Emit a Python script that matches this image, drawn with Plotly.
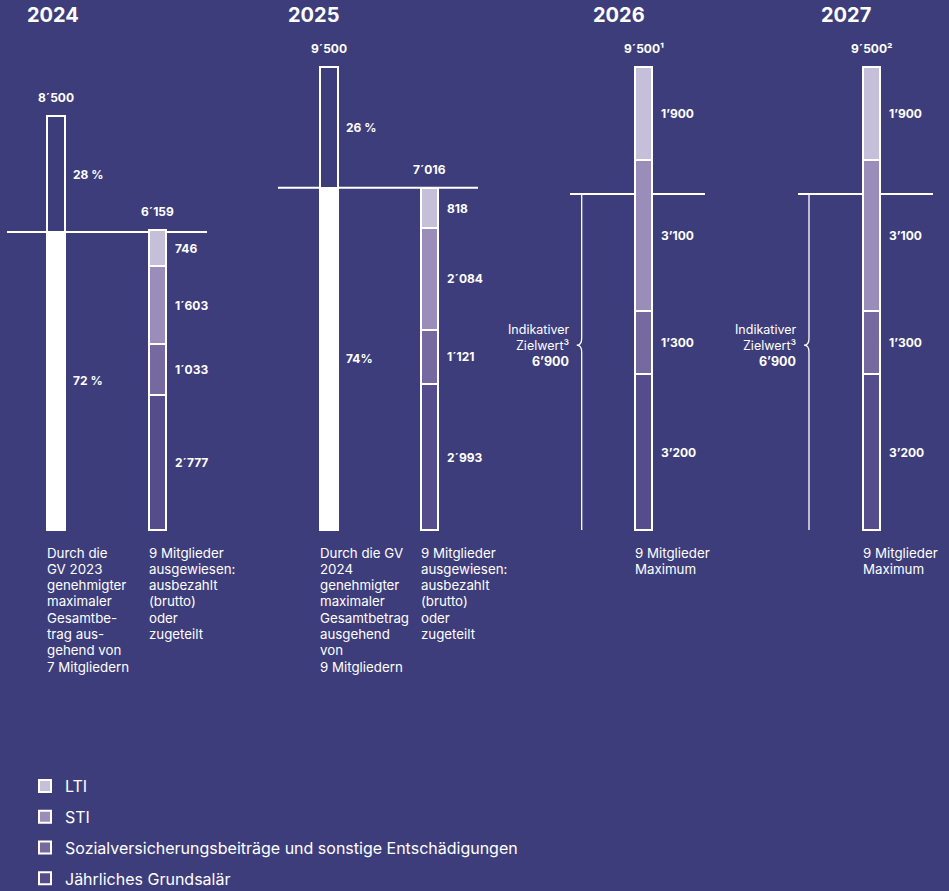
import plotly.graph_objects as go

# ---------------- data ----------------
years = ["2024", "2025", "2026", "2027"]

approved_years = ["2024", "2025"]
approved_total = [8500, 9500]
approved_total_labels = ["8´500", "9´500"]
approved_fixed_share = [0.72, 0.74]
approved_fixed_labels = ["72 %", "74%"]
approved_var_labels = ["28 %", "26 %"]

comp_years = ["2024", "2025", "2026", "2027"]
grundsalaer = [2777, 2993, 3200, 3200]
sozial = [1033, 1121, 1300, 1300]
sti = [1603, 2084, 3100, 3100]
lti = [746, 818, 1900, 1900]
comp_total_labels = ["6´159", "7´016", "9´500¹", "9´500²"]
thousand_sep = ["´", "´", "’", "’"]

target_years = ["2026", "2027"]
target_value = [6900, 6900]
target_labels = ["6’900", "6’900"]

series_names = ["Jährliches Grundsalär",
                "Sozialversicherungsbeiträge und sonstige Entschädigungen",
                "STI", "LTI"]

notes_approved = [
    ["Durch die", "GV 2023", "genehmigter", "maximaler", "Gesamtbe-",
     "trag aus-", "gehend von", "7 Mitgliedern"],
    ["Durch die GV", "2024", "genehmigter", "maximaler", "Gesamtbetrag",
     "ausgehend", "von", "9 Mitgliedern"],
]
notes_comp = [
    ["9 Mitglieder", "ausgewiesen:", "ausbezahlt", "(brutto)", "oder", "zugeteilt"],
    ["9 Mitglieder", "ausgewiesen:", "ausbezahlt", "(brutto)", "oder", "zugeteilt"],
    ["9 Mitglieder", "Maximum"],
    ["9 Mitglieder", "Maximum"],
]

# ---------------- layout constants ----------------
W, H = 949, 891
BG = "#3e3d7b"
WHITE = "#ffffff"
colors = ["#554d8b", "#75699f", "#9a8db9", "#c6bfd9"]
FONT = "Inter, 'Open Sans', sans-serif"
PX_PER_UNIT = 0.0487
BASE_PX = 530

year_label_x = [53, 313, 619, 846]
approved_x = [56, 328.5]
approved_w = 18
comp_x = [157, 429.6, 643.7, 871.7]
comp_w = 17
ref_span = [(7, 207), (278, 478), (570, 705), (798, 933)]
brace_x = [581.7, 809]

y_range = [-(H - BASE_PX) / PX_PER_UNIT, BASE_PX / PX_PER_UNIT]


def fmt(v, sep):
    s = f"{v:,}"
    return s.replace(",", sep)


fig = go.Figure()

# approved maximum bars (fixed part filled white, variable part hollow)
fixed_part = [t * s for t, s in zip(approved_total, approved_fixed_share)]
var_part = [t - f for t, f in zip(approved_total, fixed_part)]
fig.add_trace(go.Bar(x=approved_x, y=fixed_part, width=approved_w,
                     marker=dict(color=WHITE, line=dict(color=WHITE, width=2)),
                     showlegend=False, hoverinfo="skip"))
fig.add_trace(go.Bar(x=approved_x, y=var_part, width=approved_w,
                     marker=dict(color=BG, line=dict(color=WHITE, width=2)),
                     showlegend=False, hoverinfo="skip"))

# stacked components
series = [grundsalaer, sozial, sti, lti]
for i, (name, vals) in enumerate(zip(series_names, series)):
    fig.add_trace(go.Bar(x=comp_x, y=vals, width=comp_w, name=name,
                         legendgroup=name, legendrank=len(series) - i,
                         marker=dict(color=colors[i], line=dict(color=WHITE, width=2)),
                         hoverinfo="skip"))

annotations = []
shapes = []


def ann(**kw):
    base = dict(showarrow=False, font=dict(family=FONT, size=12, color=WHITE))
    base.update(kw)
    annotations.append(base)


# year titles
for xx, yr in zip(year_label_x, years):
    ann(x=xx, y=1 - 15 / H, xref="x", yref="paper", text=f"<b>{yr}</b>",
        font=dict(family=FONT, size=20, color=WHITE), xanchor="center", yanchor="middle")

# approved bar labels
for xx, tot, tl, fp, vp, fl, vl in zip(approved_x, approved_total, approved_total_labels,
                                       fixed_part, var_part, approved_fixed_labels,
                                       approved_var_labels):
    ann(x=xx, y=tot, text=f"<b>{tl}</b>", xanchor="center", yanchor="middle", yshift=19)
    ann(x=xx + approved_w / 2 + 6, y=fp / 2, text=f"<b>{fl}</b>", xanchor="left", yanchor="middle")
    ann(x=xx + approved_w / 2 + 6, y=fp + vp / 2, text=f"<b>{vl}</b>", xanchor="left", yanchor="middle")

# component labels
for j, xx in enumerate(comp_x):
    cum = 0
    for vals in series:
        v = vals[j]
        ann(x=xx + comp_w / 2 + 7, y=cum + v / 2, text=f"<b>{fmt(v, thousand_sep[j])}</b>",
            xanchor="left", yanchor="middle")
        cum += v
    ann(x=xx, y=cum, text=f"<b>{comp_total_labels[j]}</b>", xanchor="center",
        yanchor="middle", yshift=19)

# reference lines
ref_levels = fixed_part + target_value
for (x0, x1), lvl in zip(ref_span, ref_levels):
    shapes.append(dict(type="line", xref="x", yref="y", x0=x0, x1=x1, y0=lvl, y1=lvl,
                       line=dict(color=WHITE, width=2), layer="below"))

# braces for indicative target
for bx, tv, tl in zip(brace_x, target_value, target_labels):
    mid = tv * 0.55
    d = 7 / PX_PER_UNIT
    path = (f"M {bx},{tv} L {bx},{mid + d} Q {bx},{mid} {bx - 5},{mid} "
            f"Q {bx},{mid} {bx},{mid - d} L {bx},0")
    shapes.append(dict(type="path", xref="x", yref="y", path=path,
                       line=dict(color=WHITE, width=1.3), layer="below"))
    lines = ["Indikativer", "Zielwert³", f"<b>{tl}</b>"]
    for i, t in enumerate(lines):
        ann(x=bx - 11, y=mid, text=t, xanchor="right", yanchor="middle",
            font=dict(family=FONT, size=12.5, color=WHITE),
            yshift=(1 - i) * 16)

# notes under bars
note_x = [approved_x[0] - approved_w / 2 - 2, comp_x[0] - comp_w / 2 - 2,
          approved_x[1] - approved_w / 2 - 2, comp_x[1] - comp_w / 2 - 2,
          comp_x[2] - comp_w / 2 - 2, comp_x[3] - comp_w / 2 - 2]
note_texts = [notes_approved[0], notes_comp[0], notes_approved[1], notes_comp[1],
              notes_comp[2], notes_comp[3]]
for nx, lines in zip(note_x, note_texts):
    for i, t in enumerate(lines):
        ann(x=nx, y=0, text=t, xanchor="left", yanchor="middle",
            font=dict(family=FONT, size=13.3, color=WHITE),
            yshift=-(22.5 + i * 16.3))

fig.update_layout(
    width=W, height=H,
    margin=dict(l=0, r=0, t=0, b=0, autoexpand=False),
    paper_bgcolor=BG, plot_bgcolor=BG,
    barmode="stack", bargap=0,
    xaxis=dict(range=[0, W], visible=False, fixedrange=True),
    yaxis=dict(range=y_range, visible=False, fixedrange=True),
    showlegend=True,
    legend=dict(x=25 / W, xanchor="left", y=1 - 769 / H, yanchor="top",
                traceorder="grouped", tracegroupgap=7,
                font=dict(family=FONT, size=16, color=WHITE),
                bgcolor="rgba(0,0,0,0)", borderwidth=0),
    annotations=annotations,
    shapes=shapes,
)

fig.write_html("out.html")
